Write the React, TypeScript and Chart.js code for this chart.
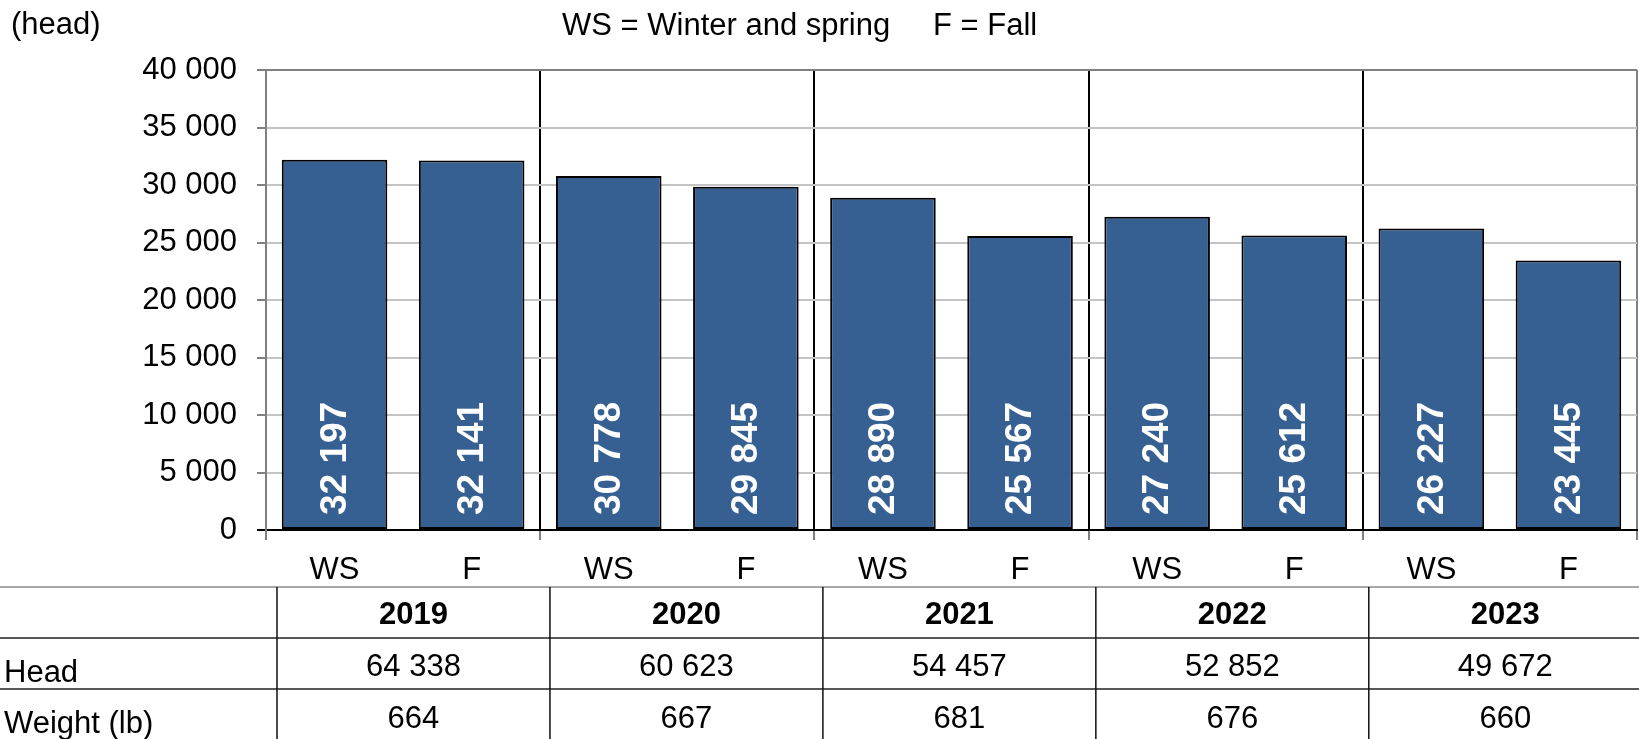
import React, { useEffect, useRef } from "react";
import { Chart, registerables } from "chart.js";

Chart.register(...registerables);

const categories = ["WS", "F", "WS", "F", "WS", "F", "WS", "F", "WS", "F"];
const years = ["2019", "2020", "2021", "2022", "2023"];
const headValues = [32197, 32141, 30778, 29845, 28890, 25567, 27240, 25612, 26227, 23445];
const headTotals = [64338, 60623, 54457, 52852, 49672];
const weights = [664, 667, 681, 676, 660];
const yTicks = [0, 5000, 10000, 15000, 20000, 25000, 30000, 35000, 40000];
const unitLabel = "(head)";
const legendParts = ["WS = Winter and spring", "F = Fall"];
const rowLabels = ["Head", "Weight (lb)"];

const FONT = "'Liberation Sans', Arial, sans-serif";
const fmt = (v: number) => String(v).replace(/\B(?=(\d{3})+(?!\d))/g, " ");

const extrasPlugin = {
  id: "extras",
  afterDatasetsDraw(chart: any) {
    const ctx = chart.ctx;
    const meta = chart.getDatasetMeta(0);
    ctx.save();
    ctx.fillStyle = "#ffffff";
    ctx.font = `bold 37px ${FONT}`;
    ctx.textAlign = "left";
    ctx.textBaseline = "middle";
    meta.data.forEach((bar: any, i: number) => {
      ctx.save();
      ctx.translate(bar.x + 1, bar.base - 14);
      ctx.rotate(-Math.PI / 2);
      ctx.fillText(fmt(headValues[i]), 0, 0);
      ctx.restore();
    });
    ctx.restore();
  },
  afterDraw(chart: any) {
    const ctx = chart.ctx;
    const area = chart.chartArea;
    const xs = chart.scales.x;
    const W = chart.width;
    const H = chart.height;
    ctx.save();
    ctx.fillStyle = "#000";
    ctx.font = `31px ${FONT}`;
    ctx.textBaseline = "middle";
    ctx.textAlign = "left";
    ctx.fillText(unitLabel, 11, 25);
    ctx.fillText(legendParts[0], 562, 26);
    ctx.fillText(legendParts[1], 933, 26);

    // table
    const catW = xs.width / categories.length;
    const tableTop = area.bottom + 57;
    const row1 = tableTop + 51;
    const row2 = tableTop + 102;
    const start = xs.getPixelForValue(0) - catW / 2 + 11;
    const step = 2 * catW - 1.25;
    const colLines = years.map((_, i) => start + i * step);
    const colRights = colLines.map((c, i) => (i < colLines.length - 1 ? colLines[i + 1] : c + step));

    ctx.lineWidth = 1.5;
    ctx.strokeStyle = "#8a8a8a";
    ctx.beginPath();
    ctx.moveTo(0, tableTop);
    ctx.lineTo(W, tableTop);
    ctx.stroke();
    ctx.strokeStyle = "#222";
    ctx.beginPath();
    ctx.moveTo(0, row1);
    ctx.lineTo(W, row1);
    ctx.moveTo(0, row2);
    ctx.lineTo(W, row2);
    ctx.stroke();
    ctx.strokeStyle = "#111";
    ctx.beginPath();
    colLines.forEach((c) => {
      ctx.moveTo(c, tableTop);
      ctx.lineTo(c, H);
    });
    ctx.stroke();

    ctx.textAlign = "center";
    years.forEach((y, i) => {
      const cx = (colLines[i] + colRights[i]) / 2;
      ctx.font = `bold 31px ${FONT}`;
      ctx.fillText(y, cx, tableTop + 28);
      ctx.font = `31px ${FONT}`;
      ctx.fillText(fmt(headTotals[i]), cx, row1 + 29);
      ctx.fillText(String(weights[i]), cx, row2 + 30);
    });
    ctx.textAlign = "left";
    ctx.fillText(rowLabels[0], 4, row1 + 35);
    ctx.fillText(rowLabels[1], 4, row2 + 35);
    ctx.restore();
  },
};

export default function App() {
  const ref = useRef<HTMLCanvasElement | null>(null);
  useEffect(() => {
    document.body.style.margin = "0";
    const canvas = ref.current!;
    const chart = new Chart(canvas, {
      type: "bar",
      data: {
        labels: categories,
        datasets: [
          {
            data: headValues,
            backgroundColor: "#366092",
            borderColor: "#000000",
            borderWidth: 2,
            borderSkipped: false,
            barPercentage: 0.77,
            categoryPercentage: 1,
          },
        ],
      },
      options: {
        animation: false,
        responsive: false,
        events: [],
        layout: { padding: { top: 70, left: 0, right: 2, bottom: 152 } },
        plugins: { legend: { display: false }, tooltip: { enabled: false }, title: { display: false } },
        scales: {
          x: {
            offset: true,
            afterFit: (s: any) => {
              s.height = 57;
            },
            grid: {
              offset: true,
              drawOnChartArea: true,
              lineWidth: 2,
              tickLength: 10,
              color: (c: any) => {
                if (c.type !== "tick") return "#808080";
                if (c.index === 0) return "#808080";
                return c.index % 2 === 0 ? "#000000" : "rgba(0,0,0,0)";
              },
              tickColor: (c: any) => {
                if (c.type !== "tick") return "#808080";
                return c.index % 2 === 0 ? "#808080" : "rgba(0,0,0,0)";
              },
            },
            border: { display: true, color: "#000000", width: 2 },
            ticks: {
              padding: 12,
              color: "#000",
              maxRotation: 0,
              autoSkip: false,
              font: { family: FONT, size: 31 },
            },
          },
          y: {
            min: 0,
            max: 40000,
            afterFit: (s: any) => {
              s.width = 266;
            },
            afterBuildTicks: (s: any) => {
              s.ticks = yTicks.map((v) => ({ value: v }));
            },
            grid: {
              lineWidth: 2,
              tickLength: 9,
              color: (c: any) => {
                const v = c.tick ? c.tick.value : null;
                if (v === 0) return "#000000";
                if (v === 40000) return "#808080";
                return "#c4c4c4";
              },
              tickColor: (c: any) => (c.tick && c.tick.value === 0 ? "#000000" : "#808080"),
            },
            border: { display: true, color: "#808080", width: 2 },
            ticks: {
              padding: 20,
              color: "#000",
              font: { family: FONT, size: 31 },
              callback: (v: any) => fmt(Number(v)),
            },
          },
        },
      },
      plugins: [extrasPlugin],
    });
    return () => chart.destroy();
  }, []);
  return (
    <div style={{ position: "absolute", left: 0, top: 0, width: 1639, height: 739, background: "#fff" }}>
      <canvas ref={ref} width={1639} height={739} style={{ display: "block" }} />
    </div>
  );
}
